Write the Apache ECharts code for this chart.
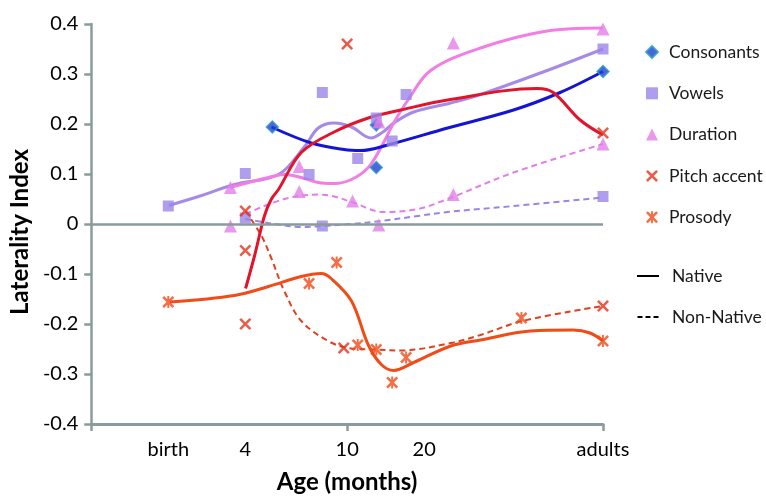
<!DOCTYPE html>
<html><head><meta charset="utf-8">
<script src="https://cdn.jsdelivr.net/npm/echarts@6/dist/echarts.min.js"></script>
<style>html,body{margin:0;padding:0;background:#fff}#c{width:766px;height:499px}</style>
</head><body><div id="c"></div>
<script>
// ---- axis ticks (age in months, log-scaled axis) ----
const tickMonths = [2, 4, 10, 20, 100];
const tickLabels = ['birth', '4', '10', '20', 'adults'];

// ---- marker data (months, laterality index) ----
const consonantsMonths = [5.1, 13, 13, 100];
const consonantsValues = [0.194, 0.198, 0.113, 0.305];

const vowelsMonths = [2, 4, 4, 7.1, 8, 8, 11, 13, 15, 17, 100, 100];
const vowelsValues = [0.036, 0.101, 0.012, 0.099, 0.263, -0.004, 0.131, 0.212, 0.166, 0.259, 0.35, 0.055];

const durationMonths = [3.5, 3.5, 6.5, 6.5, 10.5, 13.3, 13.3, 26, 26, 100, 100];
const durationValues = [0.073, -0.004, 0.115, 0.065, 0.046, -0.002, 0.204, 0.362, 0.059, 0.39, 0.16];

const pitchMonths = [4, 4, 4, 9.7, 10, 100, 100];
const pitchValues = [0.026, -0.053, -0.2, -0.248, 0.36, 0.182, -0.164];

const prosodyMonths = [2, 7.1, 9.1, 11, 13, 15, 17, 48, 100];
const prosodyValues = [-0.156, -0.119, -0.077, -0.242, -0.251, -0.317, -0.267, -0.188, -0.234];

// ---- fitted curves (native = solid, non-native = dashed) ----
const consNativeMonths = [5.06, 7.24, 9.73, 11.3, 14.4, 24.7, 44.7, 68, 100];
const consNativeValues = [0.194, 0.162, 0.149, 0.147, 0.158, 0.192, 0.228, 0.263, 0.305];

const vowNativeMonths = [2.01, 2.7, 3.63, 5.39, 6.8, 7.71, 8.9, 10.4, 12.4, 13.8, 15.2, 18.2, 25.4, 33.2, 60.5, 100];
const vowNativeValues = [0.037, 0.057, 0.079, 0.099, 0.154, 0.192, 0.202, 0.194, 0.172, 0.184, 0.202, 0.224, 0.242, 0.259, 0.307, 0.35];

const durNativeMonths = [3.48, 4.93, 5.69, 6.62, 7.71, 8.9, 10.4, 12.1, 13.6, 15.2, 17.3, 21.2, 33.2, 60.5, 100];
const durNativeValues = [0.073, 0.093, 0.099, 0.093, 0.083, 0.081, 0.089, 0.113, 0.154, 0.202, 0.248, 0.307, 0.352, 0.386, 0.392];

const pitchNativeMonths = [4.01, 4.35, 4.75, 5.06, 5.39, 6.62, 8.9, 12.1, 16.2, 24.7, 55.3, 63.9, 81.4, 100];
const pitchNativeValues = [-0.129, -0.063, 0.016, 0.05, 0.069, 0.143, 0.184, 0.212, 0.228, 0.248, 0.271, 0.263, 0.208, 0.178];

const prosNativeMonths = [2.03, 3.63, 4.93, 6.62, 7.92, 8.66, 10.4, 12.1, 13.6, 15.2, 18.2, 25.4, 33.2, 52, 76.4, 89, 100];
const prosNativeValues = [-0.156, -0.143, -0.125, -0.105, -0.099, -0.109, -0.154, -0.242, -0.281, -0.293, -0.277, -0.244, -0.232, -0.214, -0.212, -0.218, -0.234];

const pitchNonNativeMonths = [4.01, 4.63, 5.06, 5.69, 6.62, 8.43, 10.1, 12.7, 16.2, 25.4, 33.2, 48.4, 100];
const pitchNonNativeValues = [0.026, -0.024, -0.069, -0.135, -0.194, -0.234, -0.248, -0.251, -0.253, -0.238, -0.222, -0.194, -0.164];

const durNonNativeMonths = [4, 5.69, 7.71, 8.9, 10.4, 13.9, 18.9, 24.7, 44.7, 100];
const durNonNativeValues = [0.02, 0.05, 0.059, 0.055, 0.044, 0.024, 0.03, 0.05, 0.103, 0.16];

const vowNonNativeMonths = [4, 4.93, 6.62, 8.07, 10.4, 13.6, 18.9, 24.7, 44.7, 100];
const vowNonNativeValues = [0.01, 0.002, -0.006, -0.004, 0, 0.006, 0.016, 0.024, 0.036, 0.053];

// ---- study reference annotations ----
const annotationLabels = ['[1]', '[5]', '[4]', '[2]', '[7]', '[8]', '[6]', '[6]', '[3]', '[9]'];
const annotationMonths = [6.45, 9.22, 4.08, 15.2, 34.1, 82, 82, 82, 1.92, 5.58];
const annotationValues = [0.228, 0.228, 0.152, 0.089, 0.36, 0.422, 0.323, -0.263, -0.073, -0.038];

// ---- helpers ----
const lx = m => Math.log10(m);
const pts = (ms, vs) => ms.map((m, i) => [lx(m), vs[i]]);

const X_PATH = 'path://M0,1.5L1.5,0L5,3.5L8.5,0L10,1.5L6.5,5L10,8.5L8.5,10L5,6.5L1.5,10L0,8.5L3.5,5Z';
const STAR_PATH = 'path://M0,1.5L1.5,0L5,3.5L8.5,0L10,1.5L6.5,5L10,8.5L8.5,10L5,6.5L1.5,10L0,8.5L3.5,5Z M4.2,0L5.8,0L5.8,10L4.2,10Z';
const SOLID_ICON = 'path://M0,0L22,0L22,2L0,2Z';
const DASH_ICON = 'path://M0,0L5,0L5,2L0,2Z M8,0L13,0L13,2L8,2Z M16,0L21,0L21,2L16,2Z';

const GRAY = '#8a9b9c';
const FONT = 'Lato';

function curve(name, ms, vs, color, width, dashed) {
  return {
    name: name, type: 'line', data: pts(ms, vs), smooth: 0.35, symbol: 'none',
    lineStyle: { color: color, width: width, type: dashed ? [6, 4] : 'solid' },
    z: 2, silent: true, animation: false
  };
}
function marks(name, ms, vs, symbol, size, style) {
  return {
    name: name, type: 'scatter', data: pts(ms, vs), symbol: symbol, symbolSize: size,
    itemStyle: style, z: 3, animation: false
  };
}

const chart = echarts.init(document.getElementById('c'), null, { renderer: 'canvas' });
chart.setOption({
  backgroundColor: '#fff',
  animation: false,
  grid: { left: 89, right: 163, top: 24, bottom: 71 },
  legend: [
    {
      data: [
        { name: 'Consonants', icon: 'diamond' },
        { name: 'Vowels', icon: 'rect' },
        { name: 'Duration', icon: 'triangle' },
        { name: 'Pitch accent', icon: X_PATH },
        { name: 'Prosody', icon: STAR_PATH }
      ],
      orient: 'vertical', left: 645, top: 43, padding: 0,
      itemWidth: 12, itemHeight: 12, itemGap: 23.3,
      textStyle: { fontSize: 17.5, fontFamily: FONT, color: '#1a1a1a', padding: [0, 0, 0, 6] },
      selectedMode: false
    },
    {
      data: [
        { name: 'Native', icon: SOLID_ICON },
        { name: 'Non-Native', icon: DASH_ICON }
      ],
      orient: 'vertical', left: 637, top: 267, padding: 0,
      itemWidth: 22, itemHeight: 2, itemGap: 23,
      textStyle: { fontSize: 17.5, fontFamily: FONT, color: '#1a1a1a', padding: [0, 0, 0, 8] },
      selectedMode: false
    }
  ],
  xAxis: {
    type: 'value', min: 0, max: 2, interval: 1,
    name: 'Age (months)', nameLocation: 'middle', nameGap: 46,
    nameTextStyle: { fontSize: 24, fontWeight: 'bold', fontFamily: FONT, color: '#000' },
    axisLine: { show: true, onZero: false, lineStyle: { color: GRAY, width: 3 } },
    axisTick: { show: true, length: 7, lineStyle: { color: GRAY, width: 2.5 } },
    axisLabel: {
      customValues: tickMonths.map(lx),
      formatter: v => { const i = tickMonths.findIndex(m => Math.abs(lx(m) - v) < 1e-6); return i >= 0 ? tickLabels[i] : ''; },
      fontSize: 20, fontFamily: FONT, color: '#000', margin: 16
    },
    splitLine: { show: false }
  },
  yAxis: {
    type: 'value', min: -0.4, max: 0.4, interval: 0.1,
    name: 'Laterality Index', nameLocation: 'middle', nameGap: 59,
    nameTextStyle: { fontSize: 24, fontWeight: 'bold', fontFamily: FONT, color: '#000', padding: [0, 16, 0, 0] },
    axisLine: { show: true, lineStyle: { color: GRAY, width: 2.5 } },
    axisTick: { show: true, length: 7, lineStyle: { color: GRAY, width: 2.5 } },
    axisLabel: {
      formatter: v => Math.abs(v) < 1e-9 ? '0' : v.toFixed(1),
      fontSize: 20, fontFamily: FONT, color: '#000', margin: 13
    },
    splitLine: { show: false }
  },
  series: [
    Object.assign(curve('vow-nn', vowNonNativeMonths, vowNonNativeValues, '#9b84e8', 2, true), {
      markLine: {
        silent: true, symbol: ['none', 'none'], label: { show: false },
        lineStyle: { color: GRAY, width: 2.5, type: 'solid' },
        data: [{ yAxis: 0 }], animation: false
      }
    }),
    curve('dur-nn', durNonNativeMonths, durNonNativeValues, '#e27ee8', 2, true),
    curve('pitch-nn', pitchNonNativeMonths, pitchNonNativeValues, '#e0401e', 2, true),
    curve('vow-n', vowNativeMonths, vowNativeValues, '#a58ae6', 3, false),
    curve('dur-n', durNativeMonths, durNativeValues, '#f27de6', 3, false),
    curve('cons-n', consNativeMonths, consNativeValues, '#1414d2', 3, false),
    curve('pitch-n', pitchNativeMonths, pitchNativeValues, '#e0142c', 3, false),
    curve('pros-n', prosNativeMonths, prosNativeValues, '#f04c18', 3, false),
    marks('Consonants', consonantsMonths, consonantsValues, 'diamond', 12, { color: '#1f3fd6', borderColor: '#2a9fc0', borderWidth: 1.5 }),
    marks('Vowels', vowelsMonths, vowelsValues, 'rect', 11, { color: '#9b84e8' }),
    marks('Duration', durationMonths, durationValues, 'triangle', 13, { color: '#e27ee8' }),
    marks('Pitch accent', pitchMonths, pitchValues, X_PATH, 12, { color: '#e5331b' }),
    marks('Prosody', prosodyMonths, prosodyValues, STAR_PATH, 12, { color: '#f04a18' }),
    { name: 'Native', type: 'line', data: [], symbol: 'none', color: '#000', itemStyle: { color: '#000' }, lineStyle: { color: '#000', width: 2 } },
    { name: 'Non-Native', type: 'line', data: [], symbol: 'none', color: '#000', itemStyle: { color: '#000' }, lineStyle: { color: '#000', width: 1.5, type: [4, 3] } },
    {
      name: 'annotations', type: 'scatter', clip: false, silent: true, z: 1,
      symbolSize: 1, itemStyle: { opacity: 0 },
      data: annotationLabels.map((t, i) => ({ name: t, value: [lx(annotationMonths[i]), annotationValues[i]] })),
      label: { show: true, position: 'inside', formatter: '{b}', fontSize: 17, fontFamily: 'Liberation Sans', color: '#222' }
    }
  ]
});
</script></body></html>
